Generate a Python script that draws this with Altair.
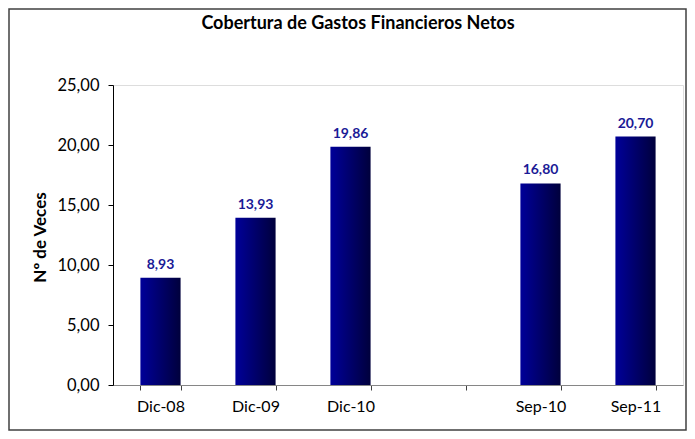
import altair as alt
import pandas as pd

categories = ["Dic-08", "Dic-09", "Dic-10", "Sep-10", "Sep-11"]
values = [8.93, 13.93, 19.86, 16.80, 20.70]
x_domain = ["Dic-08", "Dic-09", "Dic-10", " ", "Sep-10", "Sep-11"]
y_ticks = [0, 5, 10, 15, 20, 25]
title_text = "Cobertura de Gastos Financieros Netos"
y_title = "Nº de Veces"

df = pd.DataFrame({"cat": categories, "val": values})
df["lbl"] = [f"{v:.2f}".replace(".", ",") for v in values]

FONT = "Lato"

grad = alt.LinearGradient(
    gradient="linear",
    stops=[alt.GradientStop(color="#000099", offset=0),
           alt.GradientStop(color="#00003c", offset=1)],
    x1=0, x2=1, y1=0, y2=0,
)

x_scale = alt.Scale(domain=x_domain, paddingInner=0.577, paddingOuter=0.2885)
y_scale = alt.Scale(domain=[0, 25], nice=False, zero=True)

x_enc = alt.X(
    "cat:N", scale=x_scale,
    axis=alt.Axis(title=None, labelAngle=0, tickBand="extent", domainColor="#868686",
                  tickColor="#404040", tickSize=5, labelPadding=8, labelFont=FONT,
                  labelFontSize=16, labelColor="#000000"),
)
y_enc = alt.Y(
    "val:Q", scale=y_scale,
    axis=alt.Axis(values=y_ticks, grid=False, title=y_title, domainColor="#000000",
                  tickColor="#000000", tickSize=5, labelPadding=9,
                  labelExpr="replace(format(datum.value, '.2f'), '.', ',')",
                  labelFont=FONT, labelFontSize=16.5, labelColor="#000000",
                  titleFont=FONT, titleFontSize=17, titleFontWeight="bold",
                  titleColor="#000000", titleX=-73, titleY=152, titleAngle=270,
                  titleBaseline="middle", titleAlign="center"),
)

bars = alt.Chart(df).mark_bar(color=grad).encode(x=x_enc, y=y_enc)

labels = alt.Chart(df).mark_text(
    font=FONT, fontSize=14, fontWeight="bold", color="#1a1a96",
    baseline="alphabetic", dy=-9,
).encode(x=alt.X("cat:N", scale=x_scale), y=alt.Y("val:Q", scale=y_scale), text="lbl:N")

title = alt.Chart(alt.Data(values=[{"t": title_text}])).mark_text(
    font=FONT, fontSize=18, fontWeight="bold", color="#000000",
    baseline="alphabetic", align="center",
).encode(x=alt.value(245), y=alt.value(-56), text="t:N")

frame = alt.Chart(alt.Data(values=[{"a": 1}])).mark_rect(
    fillOpacity=0, stroke="#404040", strokeWidth=1.5,
).encode(x=alt.value(-104), x2=alt.value(573), y=alt.value(-76), y2=alt.value(345))

chart = alt.layer(frame, bars, labels, title).properties(
    width=570, height=300,
    autosize=alt.AutoSizeParams(type="none"),
    padding={"left": 105, "top": 77, "right": 4, "bottom": 46},
).configure_view(stroke=None).configure(background="white")

chart.save("out.html", embed_options={"renderer": "svg", "actions": False})
